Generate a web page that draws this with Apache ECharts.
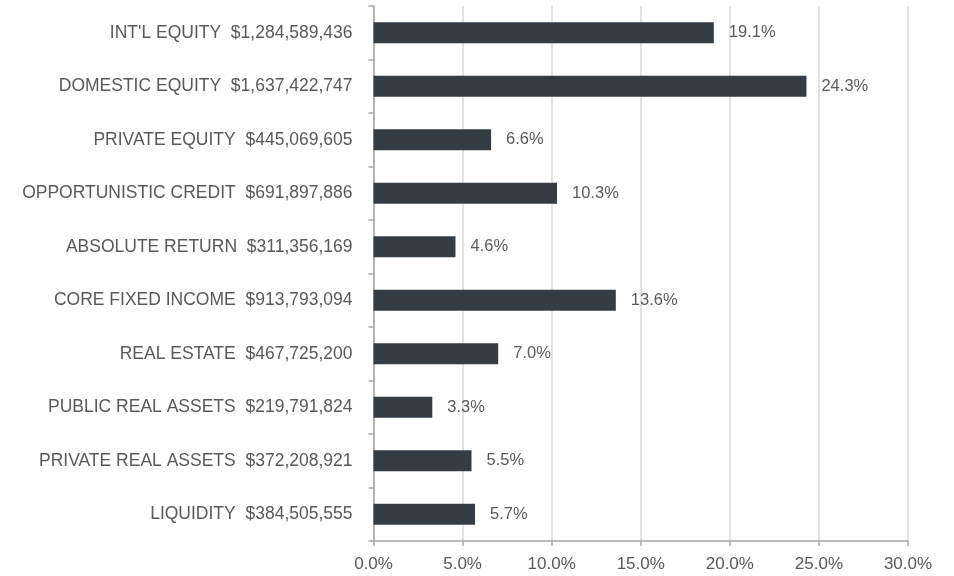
<!DOCTYPE html>
<html>
<head>
<meta charset="utf-8">
<script src="https://cdn.jsdelivr.net/npm/echarts@6/dist/echarts.min.js"></script>
<style>
  html, body { margin: 0; padding: 0; background: #fff; }
  #chart { width: 954px; height: 576px; }
</style>
</head>
<body>
<div id="chart"></div>
<script>
// asset classes, top to bottom
const categories = [
  "INT'L EQUITY", 'DOMESTIC EQUITY', 'PRIVATE EQUITY', 'OPPORTUNISTIC CREDIT',
  'ABSOLUTE RETURN', 'CORE FIXED INCOME', 'REAL ESTATE', 'PUBLIC REAL ASSETS',
  'PRIVATE REAL ASSETS', 'LIQUIDITY'
]
const amounts = [
  '$1,284,589,436', '$1,637,422,747', '$445,069,605', '$691,897,886',
  '$311,356,169', '$913,793,094', '$467,725,200', '$219,791,824',
  '$372,208,921', '$384,505,555'
]
// share of total, %
const shares = [19.1, 24.3, 6.6, 10.3, 4.6, 13.6, 7.0, 3.3, 5.5, 5.7]
// x axis tick values, %
const xTicks = [0, 5, 10, 15, 20, 25, 30]

const axisLabels = categories.map((c, i) => c + '  ' + amounts[i])

const font = "'Liberation Sans', Arial, sans-serif"
const chart = echarts.init(document.getElementById('chart'), null, { renderer: 'canvas' })

chart.setOption({
  animation: false,
  backgroundColor: '#ffffff',
  grid: { left: 373.5, right: 46, top: 6, bottom: 35, containLabel: false },
  xAxis: {
    type: 'value',
    min: xTicks[0],
    max: xTicks[xTicks.length - 1],
    interval: xTicks[1] - xTicks[0],
    axisLine: { show: true, lineStyle: { color: '#a6a6a6', width: 1.5 } },
    axisTick: { show: true, length: 5, lineStyle: { color: '#a6a6a6', width: 1.5 } },
    axisLabel: {
      show: true,
      margin: 15,
      color: '#595959',
      fontSize: 17,
      fontFamily: font,
      formatter: function (v) { return Number(v).toFixed(1) + '%' }
    },
    splitLine: { show: true, lineStyle: { color: '#d9d9d9', width: 1.5 } }
  },
  yAxis: {
    type: 'category',
    inverse: true,
    data: axisLabels,
    axisLine: { show: true, lineStyle: { color: '#a6a6a6', width: 1.5 } },
    axisTick: { show: true, length: 5, alignWithLabel: false, lineStyle: { color: '#a6a6a6', width: 1.5 } },
    axisLabel: {
      margin: 21,
      color: '#595959',
      fontSize: 17.5,
      fontFamily: font
    },
    splitLine: { show: false }
  },
  series: [{
    type: 'bar',
    data: shares,
    barWidth: 21,
    itemStyle: { color: '#353c43' },
    label: {
      show: true,
      position: 'right',
      distance: 15,
      color: '#595959',
      fontSize: 16.5,
      fontFamily: font,
      formatter: p => p.value.toFixed(1) + '%'
    }
  }]
})
</script>
</body>
</html>
